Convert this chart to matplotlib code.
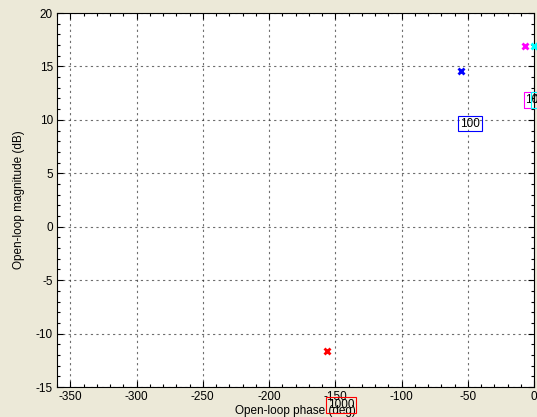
import matplotlib
matplotlib.use("Agg")
import matplotlib.pyplot as plt
from matplotlib.ticker import MultipleLocator

plt.rcParams['font.family'] = ['Liberation Sans', 'DejaVu Sans']
plt.rcParams['axes.unicode_minus'] = False

# Open-loop response samples (phase in deg, magnitude in dB)
point_phase = [-156.5, -55.0, -6.8, -0.3]
point_mag = [-11.6, 14.6, 16.9, 16.9]
point_colors = ['#ff0000', '#0000ff', '#ff00ff', '#00ffff']

# Frequency labels attached to the samples
label_text = ['1000', '100', '10', '10']
label_phase = [-145.5, -48.3, -1.5, 4.2]
label_mag = [-16.7, 9.65, 11.85, 11.85]

x_ticks = [-350, -300, -250, -200, -150, -100, -50, 0]
y_ticks = [-15, -10, -5, 0, 5, 10, 15, 20]

bg = '#ece9d8'
fig = plt.figure(figsize=(5.37, 4.17), dpi=100, facecolor=bg)
ax = fig.add_axes([57 / 537, 30 / 417, 477 / 537, 374 / 417])
ax.set_facecolor('white')

for ph, mg, c in zip(point_phase, point_mag, point_colors):
    ax.plot(ph, mg, marker='x', color=c, markersize=5, mew=2.0,
            linestyle='none', clip_on=False, zorder=5)

# Label boxes are outlined only, so whatever lies beneath stays visible
for t, ph, mg, c in zip(label_text, label_phase, label_mag, point_colors):
    ax.text(ph, mg, t, fontsize=8.5, color='black', ha='center', va='center',
            clip_on=False, zorder=6,
            bbox=dict(boxstyle='square,pad=0.15', facecolor='none',
                      edgecolor=c, linewidth=0.8))

ax.set_xlim(-360, 0)
ax.set_ylim(-15, 20)
ax.set_xticks(x_ticks)
ax.set_yticks(y_ticks)
ax.xaxis.set_minor_locator(MultipleLocator(10))
ax.yaxis.set_minor_locator(MultipleLocator(1))
ax.tick_params(which='both', direction='in', top=True, right=True,
               labelsize=8.5, pad=3)
ax.tick_params(which='major', length=4, width=0.8)
ax.tick_params(which='minor', length=2.5, width=0.8)
ax.grid(True, which='major', color='#303030', linestyle=(0, (2, 3)),
        linewidth=0.8, alpha=0.7)
for s in ax.spines.values():
    s.set_linewidth(0.8)

ax.set_xlabel('Open-loop phase (deg)', fontsize=8.5, labelpad=1)
ax.set_ylabel('Open-loop magnitude (dB)', fontsize=8.5, labelpad=8)

fig.savefig('out.png', dpi=100, facecolor=bg)
